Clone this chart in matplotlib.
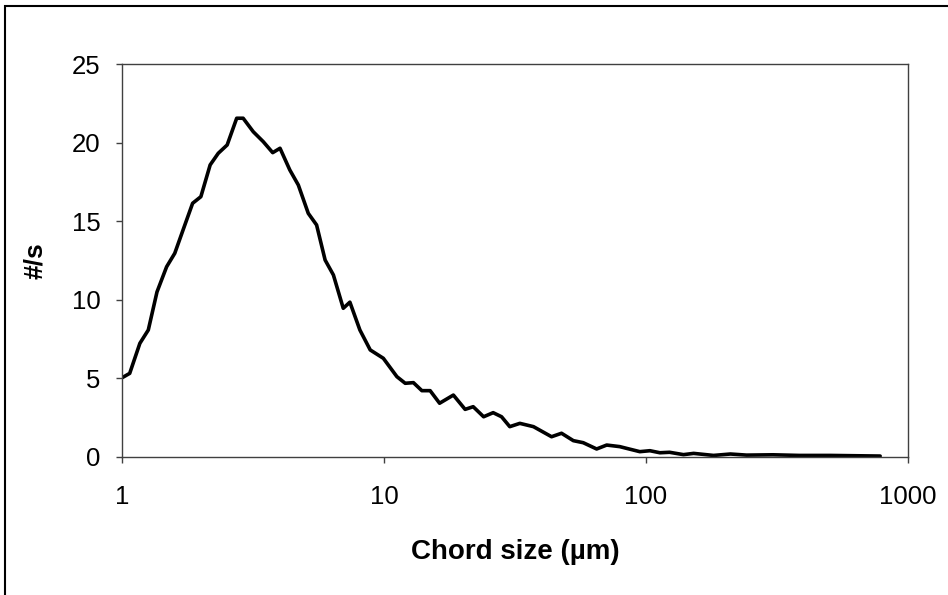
import matplotlib.pyplot as plt
from matplotlib.patches import Rectangle

# -------------------------
# Data
# -------------------------
chord = [1.0, 1.07, 1.17, 1.26, 1.36, 1.48, 1.59, 1.71, 1.86, 2.0, 2.17, 2.33,
         2.52, 2.74, 2.9, 3.17, 3.46, 3.76, 4.01, 4.37, 4.71, 5.14, 5.53, 5.96,
         6.41, 6.99, 7.41, 8.09, 8.86, 9.94, 11.2, 12.05, 12.95, 13.95, 15.0,
         16.3, 18.4, 20.4, 21.9, 24.0, 26.1, 28.1, 30.2, 33.0, 37.2, 43.6, 47.6,
         52.8, 57.6, 64.8, 70.8, 79.4, 84.3, 94.7, 103.5, 113, 123, 139, 152,
         181, 210, 242, 305, 385, 505, 783]
rate = [5.04, 5.32, 7.23, 8.08, 10.5, 12.1, 12.96, 14.44, 16.14, 16.56, 18.58,
        19.32, 19.85, 21.55, 21.55, 20.69, 20.06, 19.36, 19.64, 18.26, 17.3,
        15.5, 14.76, 12.53, 11.58, 9.46, 9.85, 8.08, 6.81, 6.28, 5.11, 4.69,
        4.73, 4.22, 4.22, 3.42, 3.94, 3.03, 3.2, 2.56, 2.82, 2.56, 1.93, 2.14,
        1.93, 1.29, 1.51, 1.04, 0.91, 0.51, 0.76, 0.66, 0.55, 0.34, 0.4, 0.27,
        0.3, 0.15, 0.23, 0.1, 0.19, 0.12, 0.14, 0.1, 0.1, 0.06]

plt.rcParams['font.family'] = ['Liberation Sans', 'DejaVu Sans']

# -------------------------
# Plot
# -------------------------
fig = plt.figure(figsize=(9.48, 5.95), dpi=100)
ax = fig.add_axes([122 / 948, 1 - 457 / 595, (908 - 122) / 948, (457 - 64) / 595])

ax.plot(chord, rate, color='black', lw=2.6, solid_joinstyle='round',
        solid_capstyle='round')

ax.set_xscale('log')
ax.set_xlim(1, 1000)
ax.set_ylim(0, 25)
ax.set_xticks([1, 10, 100, 1000])
ax.set_xticklabels(['1', '10', '100', '1000'])
ax.minorticks_off()
ax.set_yticks([0, 5, 10, 15, 20, 25])

for s in ax.spines.values():
    s.set_color('#404040')
    s.set_linewidth(1.0)

ax.tick_params(axis='both', direction='out', length=4.5, width=1, colors='#404040',
               labelsize=18.5, labelcolor='black')
ax.tick_params(axis='x', pad=16)
ax.tick_params(axis='y', pad=11)

ax.set_xlabel('Chord size (µm)', fontsize=20, fontweight='bold', labelpad=21)
ax.set_ylabel('#/s', fontsize=19, fontweight='bold', labelpad=18)

# outer chart border
fig.patches.append(Rectangle((4.5 / 948, -0.5), 2, 1.5 - 5.5 / 595, transform=fig.transFigure,
                             fill=False, edgecolor='black', lw=1.5))

fig.savefig('out.png', dpi=100)
